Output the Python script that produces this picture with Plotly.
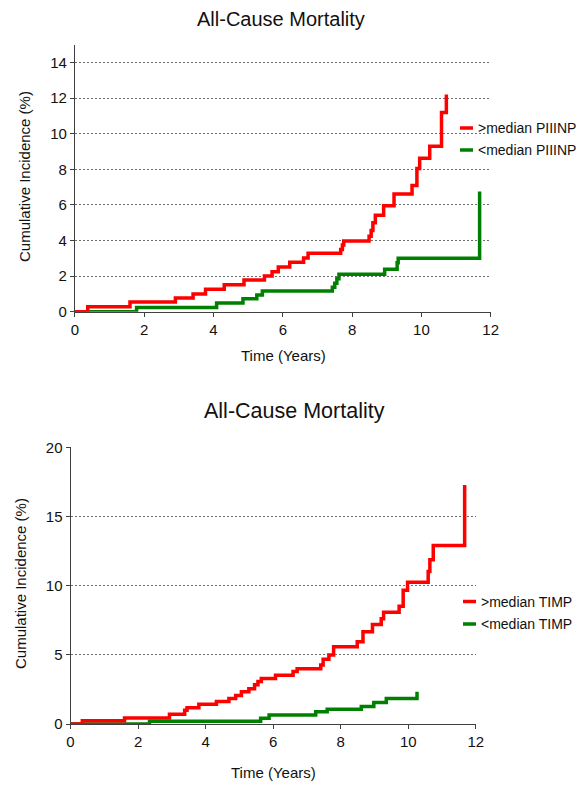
import plotly.graph_objects as go

W, H = 586, 785
FONT = "Arial, 'Liberation Sans', sans-serif"

# ---------------- data: top panel (PIIINP) ----------------
piiinp_high_t = [0, 0.37, 1.59, 2.9, 3.41, 3.77, 4.31, 4.88, 5.47, 5.69, 5.87, 6.2, 6.6, 6.73,
                 7.67, 7.72, 7.76, 8.49, 8.55, 8.6, 8.67, 8.91, 9.21, 9.73, 9.87, 9.95, 10.24,
                 10.58, 10.72]
piiinp_high_ci = [0, 0.28, 0.54, 0.77, 1.0, 1.26, 1.52, 1.78, 2.0, 2.25, 2.51, 2.78, 3.02, 3.28,
                  3.5, 3.75, 3.98, 4.24, 4.56, 5.0, 5.42, 5.95, 6.62, 7.09, 8.05, 8.63, 9.3,
                  11.2, 12.2]
piiinp_low_t = [0, 1.78, 4.09, 4.85, 5.25, 5.41, 7.43, 7.5, 7.56, 7.62, 8.94, 9.3, 9.33, 11.68]
piiinp_low_ci = [0, 0.24, 0.49, 0.73, 0.94, 1.16, 1.37, 1.6, 1.85, 2.1, 2.38, 2.75, 3.0, 6.75]

# ---------------- data: bottom panel (TIMP) ----------------
timp_high_t = [0, 0.35, 1.6, 2.93, 3.38, 3.45, 3.8, 4.32, 4.69, 4.89, 5.06, 5.28, 5.45, 5.55,
               5.65, 6.07, 6.59, 6.71, 7.41, 7.48, 7.65, 7.79, 8.49, 8.66, 8.94, 9.2, 9.27,
               9.73, 9.85, 9.98, 10.59, 10.64, 10.74, 11.67]
timp_high_ci = [0, 0.24, 0.44, 0.7, 1.0, 1.17, 1.42, 1.63, 1.85, 2.06, 2.33, 2.55, 2.83, 3.07,
                3.29, 3.53, 3.79, 4.0, 4.27, 4.68, 4.99, 5.59, 5.95, 6.67, 7.19, 7.6, 8.08,
                8.51, 9.66, 10.24, 11.03, 11.87, 12.9, 17.27]
timp_low_t = [0, 2.34, 5.63, 5.88, 7.26, 7.6, 8.61, 8.98, 9.35, 10.26]
timp_low_ci = [0, 0.19, 0.41, 0.65, 0.89, 1.06, 1.27, 1.56, 1.85, 2.33]

x_ticks = [0, 2, 4, 6, 8, 10, 12]
top_y_ticks = [0, 2, 4, 6, 8, 10, 12, 14]
bot_y_ticks = [0, 5, 10, 15, 20]

title_text = "All-Cause Mortality"
x_title = "Time (Years)"
y_title = "Cumulative Incidence (%)"
top_labels = ["&gt;median PIIINP", "&lt;median PIIINP"]
bot_labels = ["&gt;median TIMP", "&lt;median TIMP"]

RED = "#FF0000"
GREEN = "#008000"
LW = 3.5


def px(x):
    return x / W


def py(y):
    return 1 - y / H


fig = go.Figure()

# green first so red sits on top
fig.add_trace(go.Scatter(x=piiinp_low_t, y=piiinp_low_ci, mode="lines", line_shape="hv",
                         line=dict(color=GREEN, width=LW), xaxis="x", yaxis="y",
                         showlegend=False))
fig.add_trace(go.Scatter(x=piiinp_high_t, y=piiinp_high_ci, mode="lines", line_shape="hv",
                         line=dict(color=RED, width=LW), xaxis="x", yaxis="y",
                         showlegend=False))
fig.add_trace(go.Scatter(x=timp_low_t, y=timp_low_ci, mode="lines", line_shape="hv",
                         line=dict(color=GREEN, width=LW), xaxis="x2", yaxis="y2",
                         showlegend=False))
fig.add_trace(go.Scatter(x=timp_high_t, y=timp_high_ci, mode="lines", line_shape="hv",
                         line=dict(color=RED, width=LW), xaxis="x2", yaxis="y2",
                         showlegend=False))

AX = "#404040"
common_x = dict(range=[0, 12], tickvals=x_ticks, showgrid=False, zeroline=False,
                showline=True, linecolor=AX, linewidth=1, ticks="outside", ticklen=4,
                tickcolor=AX, automargin=False,
                tickfont=dict(size=15, color="#111", family=FONT))
common_y = dict(showgrid=True, gridcolor="#6e6e6e", gridwidth=1, griddash="2px,2px",
                zeroline=False, showline=True, linecolor=AX, linewidth=1, ticks="outside",
                ticklen=4, tickcolor=AX, automargin=False,
                tickfont=dict(size=15, color="#111", family=FONT))

fig.update_layout(
    width=W, height=H,
    margin=dict(l=0, r=0, t=0, b=0, autoexpand=False),
    paper_bgcolor="white", plot_bgcolor="white",
    font=dict(family=FONT, color="#111"),
    showlegend=False,
    xaxis=dict(domain=[px(74.9), px(490.7)], anchor="y", **common_x),
    yaxis=dict(domain=[py(311.7), py(44.8)], anchor="x", range=[0, 15],
               tickvals=top_y_ticks, **common_y),
    xaxis2=dict(domain=[px(70.5), px(475.8)], anchor="y2", **common_x),
    yaxis2=dict(domain=[py(724), py(447.3)], anchor="x2", range=[0, 20],
                tickvals=bot_y_ticks, **common_y),
)

annotations = []
# titles
annotations.append(dict(text=title_text, x=px(280.5), y=py(19), xref="paper", yref="paper",
                        showarrow=False, xanchor="center", yanchor="middle",
                        font=dict(size=20, family=FONT, color="#111")))
annotations.append(dict(text=title_text, x=px(294), y=py(411), xref="paper", yref="paper",
                        showarrow=False, xanchor="center", yanchor="middle",
                        font=dict(size=21.5, family=FONT, color="#111")))
# axis titles
for (xx, yy) in [(283, 355), (273, 772)]:
    annotations.append(dict(text=x_title, x=px(xx), y=py(yy), xref="paper", yref="paper",
                            showarrow=False, xanchor="center", yanchor="middle",
                            font=dict(size=15, family=FONT, color="#111")))
for (xx, yy) in [(25, 177), (20, 584)]:
    annotations.append(dict(text=y_title, x=px(xx), y=py(yy), xref="paper", yref="paper",
                            showarrow=False, xanchor="center", yanchor="middle", textangle=-90,
                            font=dict(size=15, family=FONT, color="#111")))

# custom legends
shapes = []
legend_specs = [
    (460, 473, 476, [128, 150], top_labels),
    (463, 476, 479, [601.5, 624], bot_labels),
]
for x0, x1, xt, ys, labels in legend_specs:
    for yy, lab, col in zip(ys, labels, [RED, GREEN]):
        shapes.append(dict(type="line", xref="paper", yref="paper", x0=px(x0), x1=px(x1),
                           y0=py(yy), y1=py(yy), line=dict(color=col, width=LW)))
        annotations.append(dict(text=lab, x=px(xt), y=py(yy), xref="paper", yref="paper",
                                showarrow=False, xanchor="left", yanchor="middle",
                                font=dict(size=14, family=FONT, color="#111")))

fig.update_layout(annotations=annotations, shapes=shapes)

fig.write_html("out.html", config={"displayModeBar": False},
               post_script="document.body.style.margin='0';document.body.style.overflow='hidden';")
